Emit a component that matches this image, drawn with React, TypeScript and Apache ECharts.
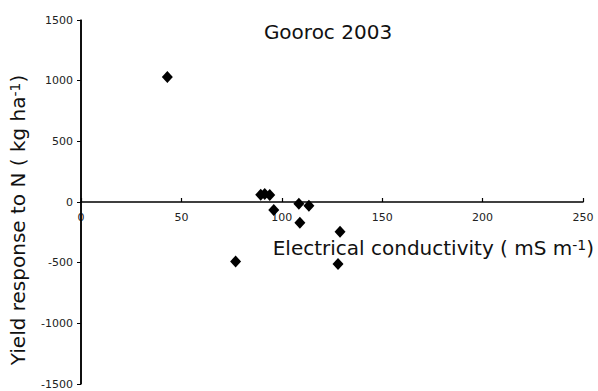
import React, { useEffect, useRef } from "react";
import * as echarts from "echarts";

const conductivity = [43, 77, 89.5, 91.5, 94, 96, 108.5, 113.5, 109, 129, 128];
const yieldResponse = [1030, -490, 60, 65, 58, -65, -15, -30, -172, -245, -510];
const xTicks = { min: 0, max: 250, interval: 50 };
const yTicks = { min: -1500, max: 1500, interval: 500 };
const titleText = "Gooroc 2003";
const xName = "Electrical conductivity ( mS m{sup|-1})";
const yName = "Yield response to N ( kg ha{sup|-1})";

const FONT = "DejaVu Sans";
const GRID_TOP = 20;
const GRID_BOTTOM = 7;
const CHART_H = 391;

export default function App() {
  const ref = useRef<HTMLDivElement>(null);
  useEffect(() => {
    if (!ref.current) return;
    const chart = echarts.init(ref.current, null, { renderer: "svg" });
    const points = conductivity.map((x, i) => [x, yieldResponse[i]]);
    const plotH = CHART_H - GRID_TOP - GRID_BOTTOM;
    const zeroOffset = -(plotH * (0 - yTicks.min)) / (yTicks.max - yTicks.min);
    chart.setOption({
      animation: false,
      backgroundColor: "#ffffff",
      title: {
        text: titleText,
        left: 328,
        top: 22,
        textAlign: "center",
        padding: 0,
        textStyle: { fontFamily: FONT, fontSize: 20, fontWeight: "normal", color: "#111" },
      },
      grid: { left: 77, right: 15, top: GRID_TOP, bottom: GRID_BOTTOM, containLabel: false },
      xAxis: {
        type: "value",
        min: xTicks.min,
        max: xTicks.max,
        interval: xTicks.interval,
        position: "bottom",
        offset: zeroOffset,
        name: xName,
        nameLocation: "end",
        nameGap: 11,
        nameTextStyle: {
          fontFamily: FONT,
          fontSize: 20,
          color: "#111",
          align: "right",
          verticalAlign: "top",
          padding: [36, 0, 0, 0],
          rich: { sup: { fontFamily: FONT, fontSize: 14, verticalAlign: "top", color: "#111" } },
        },
        axisLine: { show: true, onZero: false, lineStyle: { color: "#000", width: 1.5 } },
        axisTick: { show: true, inside: true, length: 4, lineStyle: { color: "#000", width: 1.2 } },
        axisLabel: {
          color: "#222",
          fontFamily: FONT,
          fontSize: 11,
          margin: 10,
          formatter: (v: number) => String(v),
        },
        splitLine: { show: false },
      },
      yAxis: {
        type: "value",
        min: yTicks.min,
        max: yTicks.max,
        interval: yTicks.interval,
        name: yName,
        nameLocation: "middle",
        nameRotate: 90,
        nameGap: 53,
        nameTextStyle: {
          fontFamily: FONT,
          fontSize: 20,
          color: "#111",
          padding: [0, 36, 0, 0],
          rich: { sup: { fontFamily: FONT, fontSize: 14, verticalAlign: "top", color: "#111" } },
        },
        axisLine: { show: true, lineStyle: { color: "#000", width: 1.5 } },
        axisTick: { show: true, length: 4, lineStyle: { color: "#000" } },
        axisLabel: {
          color: "#222",
          fontFamily: FONT,
          fontSize: 11,
          margin: 8,
          formatter: (v: number) => String(v),
        },
        splitLine: { show: false },
      },
      series: [
        {
          type: "scatter",
          data: points,
          symbol: "diamond",
          symbolSize: [11, 12],
          itemStyle: { color: "#000", opacity: 1 },
          markLine: {
            silent: true,
            symbol: ["none", "none"],
            label: { show: false },
            lineStyle: { color: "#000", width: 1.5, type: "solid" },
            emphasis: { disabled: true },
            data: [{ xAxis: 0 }],
          },
        },
      ],
    });
    return () => chart.dispose();
  }, []);
  return (
    <div
      ref={ref}
      style={{ position: "fixed", left: 0, top: 0, width: 598, height: 391, background: "#fff" }}
    />
  );
}
